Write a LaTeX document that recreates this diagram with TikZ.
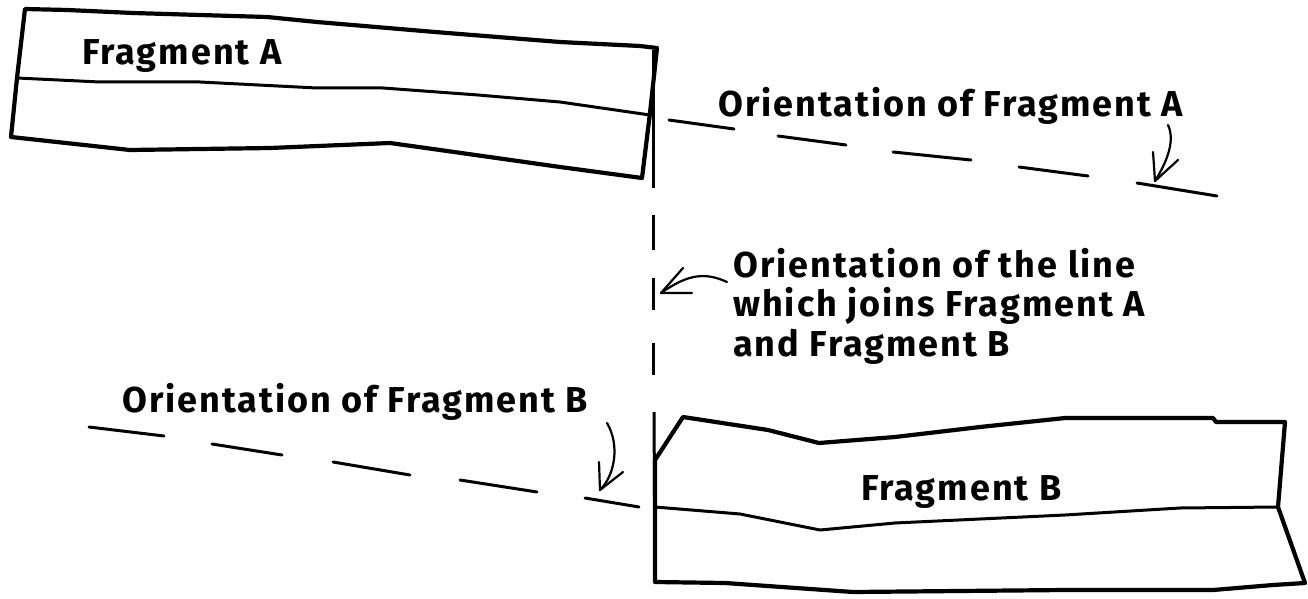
\documentclass[tikz,border=0pt]{standalone}
\usepackage{fontspec}
\newfontfamily\lblfont[LetterSpace=5.5]{Fira Sans}
\begin{document}
\begin{tikzpicture}[x=1pt,y=-1pt,
  frag/.style={line width=4.2pt,line join=round,line cap=round},
  seam/.style={line width=3pt,line join=round,line cap=round},
  dsh/.style={line width=3pt,line cap=round},
  joinline/.style={line width=3pt},
  arr/.style={line width=2.2pt,line cap=round,line join=round},
  lbl/.style={anchor=base west,inner sep=0pt,font=\lblfont\bfseries\fontsize{36}{40}\selectfont}]
\useasboundingbox (0,0) rectangle (1308,599);
% Fragment A
\draw[frag] (25,9) -- (67,10) -- (133,13) -- (200,15) -- (267,17) -- (317,22) -- (435,32) -- (560,42) -- (640,46) -- (657,48)
  -- (650,113) -- (642,178) -- (560,167) -- (440,150) -- (390,143) -- (270,148) -- (130,150) -- (11,137)
  -- (17,78) -- cycle;
\draw[seam] (17,78) -- (100,82) -- (200,82) -- (317,88) -- (383,88) -- (478,95) -- (560,102) -- (650,115);
% Fragment B
\draw[frag] (655,460) -- (683,417) -- (768,430) -- (819,443) -- (895,437) -- (980,427) -- (1065,418) -- (1213,418) -- (1216,422) -- (1285,422)
  -- (1278,507) -- (1305,583) -- (1273,585) -- (1213,590) -- (1065,590) -- (853,592) -- (725,583) -- (655,582) -- cycle;
\draw[seam] (655,507) -- (740,514) -- (790,524) -- (820,530) -- (895,523) -- (1065,515) -- (1180,508) -- (1278,507);
% joining line
\coordinate (jA) at (653,50);
\coordinate (jB) at (655,582);
\draw[joinline] (jA) -- (653,188);
\draw[joinline] (653,215) -- (653,250);
\draw[joinline] (653,278) -- (653,310);
\draw[joinline] (653,343) -- (653,375);
\draw[joinline] (654,412) -- (jB);
% orientation A dashes
\foreach \a/\b in {{(669,120)}/{(734,129)},{(778,136)}/{(846,145)},{(893,152)}/{(971,160)},{(1019,167)}/{(1088,176)},{(1137,183)}/{(1217,196)}}
  \draw[dsh] \a -- \b;
% orientation B dashes
\foreach \a/\b in {{(89,427)}/{(164,436)},{(212,444)}/{(282,455)},{(333,462)}/{(410,475)},{(460,480)}/{(537,492)},{(585,498)}/{(639,507)}}
  \draw[dsh] \a -- \b;
% labels
\node[lbl] (fa) at (82,65) {Fragment A};
\node[lbl] (fb) at (861,500) {Fragment B};
\node[lbl] (oa) at (718,117) {Orientation of Fragment A};
\node[lbl] (ob) at (122,412) {Orientation of Fragment B};
\node[lbl] (ol1) at (733,277) {Orientation of the line};
\node[lbl] (ol2) at (733,316) {which joins Fragment A};
\node[lbl] (ol3) at (733,356) {and Fragment B};
% arrows
\coordinate (aAs) at (1168,125);
\coordinate (aAt) at (1155,181);
\draw[arr] (aAs) .. controls (1175,140) and (1168,160) .. (aAt);
\draw[arr] (1153,152) -- (aAt) -- (1178,160);
\coordinate (aMs) at (727,282);
\coordinate (aMt) at (661,293);
\draw[arr] (aMs) .. controls (705,272) and (688,274) .. (aMt);
\draw[arr] (683,268) -- (aMt) -- (692,293);
\coordinate (aBs) at (607,423);
\coordinate (aBt) at (600,490);
\draw[arr] (aBs) .. controls (620,445) and (615,475) .. (aBt);
\draw[arr] (599,462) -- (aBt) -- (623,472);
\end{tikzpicture}
\end{document}
